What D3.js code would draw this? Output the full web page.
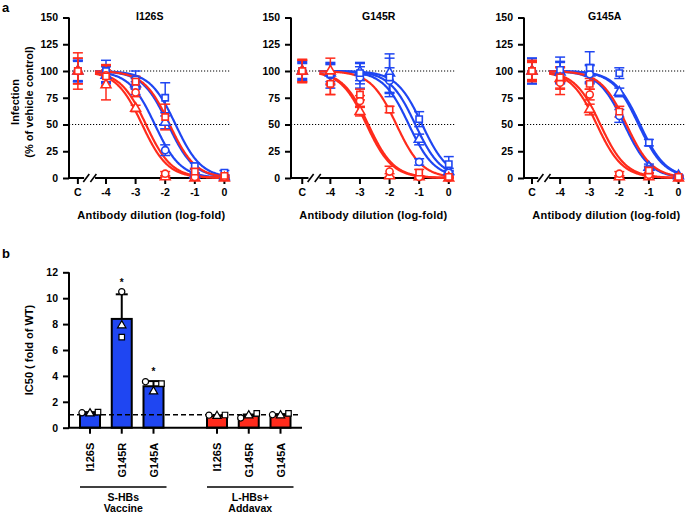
<!DOCTYPE html>
<html><head><meta charset="utf-8">
<script src="https://cdn.jsdelivr.net/npm/d3@7"></script>
<style>
html,body{margin:0;padding:0;background:#fff;}
text{font-family:"Liberation Sans",Arial,sans-serif;font-weight:bold;fill:#000;}
</style></head>
<body>
<script>
// ---------- DATA ----------
const panelTitles = ["I126S", "G145R", "G145A"];
const xTickLabels = ["C", "-4", "-3", "-2", "-1", "0"];
const xTickValues = [-4.95, -4, -3, -2, -1, 0];   // log-fold dilution ("C" = vehicle control)
const yTicksA = [0, 25, 50, 75, 100, 125, 150];
const seriesColors = ["blue", "blue", "blue", "red", "red", "red"];
const seriesShapes = ["circle", "square", "triangle", "circle", "square", "triangle"];

// fitted log IC50 per panel, per series (blue circle, blue square, blue triangle, red circle, red square, red triangle)
const logIC50_I126S = [-2.35, -1.65, -1.9, -2.65, -1.85, -2.78];
const logIC50_G145R = [-1.35, -0.9, -1.13, -2.78, -1.77, -2.72];
const logIC50_G145A = [-1.83, -1.3, -1.35, -2.64, -1.76, -2.76];
const hillSlope = 1;

// measured points at [C, -4, -3, -2, -1, 0]
const pts_I126S = [
  [100, 97, 84, 26, 2, 1],
  [100, 100, 92, 75, 11, 5],
  [100, 96, 88, 52, 3, 1],
  [100, 96, 80, 4, 1, 1],
  [100, 95, 90, 57, 6, 2],
  [100, 87, 65, 1, 0, 0]
];
const err_I126S = [
  [10, 8, 6, 5, 2, 1],
  [10, 10, 8, 14, 3, 2],
  [9, 8, 5, 6, 2, 1],
  [12, 10, 4, 2, 1, 1],
  [17, 10, 5, 12, 3, 1],
  [12, 14, 3, 1, 1, 1]
];
const pts_G145R = [
  [100, 96, 94, 91, 15, 5],
  [100, 97, 98, 94, 55, 13],
  [100, 98, 99, 98, 36, 6],
  [100, 88, 72, 6, 1, 0],
  [100, 88, 78, 64, 5, 1],
  [100, 100, 62, 2, 1, 0]
];
const err_G145R = [
  [8, 12, 10, 12, 3, 2],
  [7, 10, 10, 18, 7, 7],
  [9, 8, 8, 18, 5, 3],
  [10, 10, 5, 5, 1, 1],
  [11, 10, 5, 3, 3, 1],
  [10, 12, 4, 2, 1, 1]
];
const pts_G145A = [
  [100, 98, 97, 58, 8, 1],
  [100, 101, 103, 98, 33, 1],
  [100, 99, 98, 80, 10, 2],
  [100, 89, 78, 4, 3, 0],
  [100, 94, 88, 62, 7, 1],
  [100, 93, 64, 1, 1, 0]
];
const err_G145A = [
  [12, 10, 8, 6, 3, 1],
  [12, 12, 15, 5, 3, 1],
  [10, 10, 8, 4, 3, 1],
  [8, 11, 5, 2, 2, 1],
  [10, 10, 5, 5, 3, 1],
  [9, 10, 5, 1, 1, 1]
];

// panel b
const barCategories = ["I126S", "G145R", "G145A"];
const groupNames = [["S-HBs", "Vaccine"], ["L-HBs+", "Addavax"]];
const yTicksB = [0, 2, 4, 6, 8, 10, 12];
const blueMeans = [1.15, 8.4, 3.2];
const blueSD = [0.05, 1.9, 0.4];
const redMeans = [0.9, 0.9, 0.95];
const redSD = [0.05, 0.12, 0.1];
const blueCircle = [1.15, 10.5, 3.55];
const blueSquare = [1.2, 7.0, 3.4];
const blueTriangle = [1.1, 7.9, 2.8];
const redCircle = [0.97, 0.75, 1.0];
const redSquare = [0.98, 1.1, 1.1];
const redTriangle = [0.9, 0.95, 0.95];
const significance = ["", "*", "*"];

// ---------- DRAW ----------
const W = 685, H = 515;
const BLUE = "#1f46f2", RED = "#ff2b1c";
const FS = "10.5px";
const colorOf = c => c === "blue" ? BLUE : RED;
const symOf = s => s === "circle" ? d3.symbolCircle : s === "square" ? d3.symbolSquare : d3.symbolTriangle;

const svg = d3.select("body").append("svg").attr("width", W).attr("height", H);

svg.append("text").attr("x", 2).attr("y", 12).style("font-size", "13px").text("a");
svg.append("text").attr("x", 2).attr("y", 258).style("font-size", "13px").text("b");

const panels = [
  {title: panelTitles[0], ic: logIC50_I126S, pts: pts_I126S, err: err_I126S, ax: 69, d0: -5.25, tOff: 80.7},
  {title: panelTitles[1], ic: logIC50_G145R, pts: pts_G145R, err: err_G145R, ax: 291, d0: -5.33, tOff: 87.7},
  {title: panelTitles[2], ic: logIC50_G145A, pts: pts_G145A, err: err_G145A, ax: 524, d0: -5.22, tOff: 80.7}
];
const unit = 29.6;
const yA = d3.scaleLinear().domain([0, 150]).range([178, 17.5]);

panels.forEach((p, pi) => {
  const x = d3.scaleLinear().domain([p.d0, 0]).range([p.ax, p.ax - p.d0 * unit]);
  const g = svg.append("g");
  // dotted ref lines
  [100, 50].forEach(v => {
    g.append("line").attr("x1", p.ax).attr("x2", x(0) + 6)
      .attr("y1", yA(v)).attr("y2", yA(v))
      .attr("stroke", "#000").attr("stroke-width", 1).attr("stroke-dasharray", "1.2,1.8");
  });
  // y axis
  const yAxis = d3.axisLeft(yA).tickValues(yTicksA).tickSize(6).tickPadding(5);
  const ya = g.append("g").attr("transform", `translate(${p.ax},0)`).call(yAxis);
  ya.select(".domain").attr("stroke-width", 2).attr("d", `M0,${yA(150)}V${yA(0)}`);
  ya.selectAll(".tick line").attr("stroke-width", 2);
  ya.selectAll("text").style("font-size", FS).style("font-family", "Liberation Sans, Arial").style("font-weight", "bold");
  // x axis with break
  const xa = g.append("g").attr("transform", `translate(0,${yA(0)})`);
  xa.append("line").attr("x1", p.ax - 1).attr("x2", x(-4.74)).attr("y1", 0).attr("y2", 0).attr("stroke", "#000").attr("stroke-width", 2);
  xa.append("line").attr("x1", x(-4.37)).attr("x2", x(0) + 1).attr("y1", 0).attr("y2", 0).attr("stroke", "#000").attr("stroke-width", 2);
  [-4.7, -4.46].forEach(v => {
    xa.append("line").attr("x1", x(v) - 2).attr("x2", x(v) + 4).attr("y1", 4).attr("y2", -4)
      .attr("stroke", "#000").attr("stroke-width", 1.6);
  });
  xTickValues.forEach((v, i) => {
    xa.append("line").attr("x1", x(v)).attr("x2", x(v)).attr("y1", 0).attr("y2", 6).attr("stroke", "#000").attr("stroke-width", 2);
    xa.append("text").attr("x", x(v)).attr("y", 18).attr("text-anchor", "middle").style("font-size", FS).text(xTickLabels[i]);
  });
  // title & x label
  g.append("text").attr("x", p.ax + p.tOff).attr("y", 20).attr("text-anchor", "middle").style("font-size", FS).text(p.title);
  g.append("text").attr("x", p.ax + 82.3).attr("y", 219).attr("text-anchor", "middle").style("font-size", "11px").style("letter-spacing", "0.25px").text("Antibody dilution (log-fold)");

  // curves
  const xs = d3.range(-4.37, 0.0001, 0.02);
  const line = d3.line().x(d => x(d[0])).y(d => yA(d[1]));
  const order = [0, 1, 2, 3, 4, 5];
  order.forEach(si => {
    const ic = p.ic[si];
    const data = xs.map(v => [v, 100 / (1 + Math.pow(10, (v - ic) * hillSlope))]);
    g.append("path").datum(data).attr("d", line).attr("fill", "none")
      .attr("stroke", colorOf(seriesColors[si])).attr("stroke-width", 2.2);
  });
  // error bars and markers (triangles, circles, then squares on top)
  const markOrder = [2, 0, 1, 5, 3, 4];
  markOrder.forEach(si => {
    const col = colorOf(seriesColors[si]);
    p.pts[si].forEach((v, j) => {
      const cx = x(xTickValues[j]);
      const e = p.err[si][j];
      const y1 = yA(Math.max(v - e, 0)), y2 = yA(v + e);
      g.append("line").attr("x1", cx).attr("x2", cx).attr("y1", y1).attr("y2", y2).attr("stroke", col).attr("stroke-width", 1.5);
      [y1, y2].forEach(yy => g.append("line").attr("x1", cx - 5).attr("x2", cx + 5).attr("y1", yy).attr("y2", yy).attr("stroke", col).attr("stroke-width", 1.5));
    });
  });
  markOrder.forEach(si => {
    const col = colorOf(seriesColors[si]);
    const sym = d3.symbol().type(symOf(seriesShapes[si])).size(seriesShapes[si] === "triangle" ? 42 : 40);
    p.pts[si].forEach((v, j) => {
      g.append("path").attr("d", sym()).attr("transform", `translate(${x(xTickValues[j])},${yA(v)})`)
        .attr("fill", "#fff").attr("stroke", col).attr("stroke-width", 1.6);
    });
  });
});

// y label panel a
svg.append("text").attr("transform", "translate(19,102) rotate(-90)").attr("text-anchor", "middle").style("font-size", "11px").text("Infection");
svg.append("text").attr("transform", "translate(33,102) rotate(-90)").attr("text-anchor", "middle").style("font-size", "11px").text("(% of vehicle control)");

// ---------- PANEL B ----------
const yB = d3.scaleLinear().domain([0, 12]).range([427.7, 272.3]);
const slots = ["b0", "b1", "b2", "gap", "r0", "r1", "r2"];
const xB = d3.scalePoint().domain(slots).range([90, 280.5]);
const bw = 20;
const gb = svg.append("g");

// y axis
const yAxB = d3.axisLeft(yB).tickValues(yTicksB).tickSize(6).tickPadding(5);
const yab = gb.append("g").attr("transform", "translate(69,0)").call(yAxB);
yab.select(".domain").attr("stroke-width", 2).attr("d", `M0,${yB(12)}V${yB(0)}`);
yab.selectAll(".tick line").attr("stroke-width", 2);
yab.selectAll("text").style("font-size", FS).style("font-family", "Liberation Sans, Arial").style("font-weight", "bold");
gb.append("text").attr("transform", `translate(33,${yB(6)}) rotate(-90)`).attr("text-anchor", "middle").style("font-size", "11px").text("IC50 ( fold of WT)");

const barSets = [
  {keys: ["b0", "b1", "b2"], means: blueMeans, sd: blueSD, color: BLUE, c: blueCircle, s: blueSquare, t: blueTriangle},
  {keys: ["r0", "r1", "r2"], means: redMeans, sd: redSD, color: RED, c: redCircle, s: redSquare, t: redTriangle}
];
barSets.forEach(bs => {
  bs.keys.forEach((k, i) => {
    const cx = xB(k);
    const top = yB(bs.means[i] + bs.sd[i]);
    gb.append("line").attr("x1", cx).attr("x2", cx).attr("y1", yB(bs.means[i])).attr("y2", top).attr("stroke", "#000").attr("stroke-width", 2);
    gb.append("line").attr("x1", cx - 6).attr("x2", cx + 6).attr("y1", top).attr("y2", top).attr("stroke", "#000").attr("stroke-width", 2);
    gb.append("rect").attr("x", cx - bw / 2).attr("y", yB(bs.means[i])).attr("width", bw)
      .attr("height", yB(0) - yB(bs.means[i])).attr("fill", bs.color).attr("stroke", "#000").attr("stroke-width", 2);
  });
});
// dashed reference line at 1
gb.append("line").attr("x1", 69).attr("x2", 300).attr("y1", yB(1)).attr("y2", yB(1))
  .attr("stroke", "#000").attr("stroke-width", 1.3).attr("stroke-dasharray", "5,3");
// points
barSets.forEach(bs => {
  bs.keys.forEach((k, i) => {
    const cx = xB(k);
    const vals = [bs.c[i], bs.t[i], bs.s[i]];
    const shapes = [d3.symbolCircle, d3.symbolTriangle, d3.symbolSquare];
    const spread = d3.max(vals) - d3.min(vals) < 0.9;
    vals.forEach((v, j) => {
      const dx = spread ? (j - 1) * 8 : 0;
      gb.append("path").attr("d", d3.symbol().type(shapes[j]).size(30)())
        .attr("transform", `translate(${cx + dx},${yB(v)})`)
        .attr("fill", "#fff").attr("stroke", "#000").attr("stroke-width", 1.2);
    });
    if (bs.color === BLUE && significance[i]) {
      gb.append("text").attr("x", cx).attr("y", yB(d3.max([bs.means[i] + bs.sd[i], ...vals])) - 6)
        .attr("text-anchor", "middle").style("font-size", "10px").text(significance[i]);
    }
  });
});
// x axis
gb.append("line").attr("x1", 68).attr("x2", 302).attr("y1", yB(0)).attr("y2", yB(0)).attr("stroke", "#000").attr("stroke-width", 2);
barSets.forEach((bs, gi) => {
  bs.keys.forEach((k, i) => {
    const cx = xB(k);
    gb.append("line").attr("x1", cx).attr("x2", cx).attr("y1", yB(0)).attr("y2", yB(0) + 6).attr("stroke", "#000").attr("stroke-width", 2);
    gb.append("text").attr("transform", `translate(${cx + 4},${yB(0) + 15}) rotate(-90)`)
      .attr("text-anchor", "end").style("font-size", "11px").text(barCategories[i]);
  });
  const x1 = xB(bs.keys[0]) - 10, x2 = xB(bs.keys[2]) + 13;
  gb.append("line").attr("x1", x1).attr("x2", x2).attr("y1", 487).attr("y2", 487).attr("stroke", "#000").attr("stroke-width", 1.3);
  gb.append("text").attr("x", (x1 + x2) / 2).attr("y", 501).attr("text-anchor", "middle").style("font-size", "10.5px").text(groupNames[gi][0]);
  gb.append("text").attr("x", (x1 + x2) / 2).attr("y", 512).attr("text-anchor", "middle").style("font-size", "10.5px").text(groupNames[gi][1]);
});
</script>
</body></html>
